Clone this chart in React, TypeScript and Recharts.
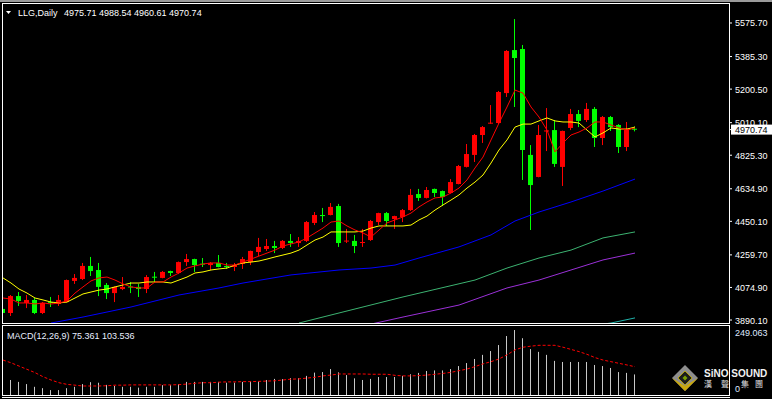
import { Bar, ComposedChart, Line, XAxis, YAxis } from "recharts";

const FONT = "'Liberation Sans', Arial, sans-serif";

const opens = [
  3953, 3930, 4026, 3987, 4004, 3930, 3992, 3981, 3992, 4112,
  4123, 4197, 4174, 4089, 4043, 4066, 4080, 4078, 4066, 4136,
  4129, 4168, 4157, 4219, 4236, 4210, 4202, 4214, 4197, 4191,
  4208, 4219, 4276, 4293, 4310, 4299, 4339, 4327, 4339, 4441,
  4486, 4486, 4537, 4336, 4339, 4327, 4344, 4446, 4497, 4463,
  4475, 4514, 4605, 4583, 4634, 4622, 4611, 4662, 4759, 4827,
  4940, 5006, 5008, 5178, 5422, 5428, 4827, 4702, 4960, 4968,
  4759, 4980, 5059, 5025, 5088, 4923, 5042, 4997, 4872, 4975.71,
];
const highs = [
  4032, 4032, 4049, 4032, 4015, 3992, 4021, 4032, 4120, 4151,
  4214, 4248, 4214, 4100, 4080, 4134, 4106, 4095, 4145, 4163,
  4168, 4170, 4222, 4265, 4238, 4242, 4219, 4259, 4214, 4214,
  4248, 4284, 4356, 4350, 4339, 4344, 4378, 4361, 4452, 4503,
  4526, 4554, 4549, 4407, 4373, 4407, 4458, 4499, 4503, 4482,
  4520, 4634, 4634, 4645, 4636, 4625, 4690, 4770, 4889, 4946,
  4991, 5110, 5190, 5422, 5598, 5451, 4883, 4997, 5093, 5025,
  4965, 5088, 5082, 5122, 5099, 5048, 5048, 5002, 5014, 4988.54,
];
const lows = [
  3913, 3913, 3970, 3958, 3924, 3924, 3964, 3970, 3990, 4095,
  4117, 4140, 4026, 4009, 3992, 4060, 4043, 4021, 4043, 4100,
  4127, 4140, 4151, 4197, 4163, 4191, 4174, 4189, 4180, 4168,
  4180, 4202, 4253, 4282, 4270, 4293, 4305, 4305, 4333, 4429,
  4446, 4484, 4305, 4327, 4270, 4305, 4339, 4429, 4424, 4407,
  4446, 4509, 4566, 4580, 4588, 4537, 4608, 4660, 4756, 4787,
  4895, 5004, 5002, 5156, 5099, 4685, 4401, 4700, 4849, 4759,
  4651, 4968, 4985, 5014, 4872, 4883, 4963, 4838, 4849, 4960.61,
];
const closes = [
  3930, 4026, 3998, 4004, 3930, 3987, 3987, 4004, 4117, 4129,
  4197, 4168, 4078, 4043, 4078, 4078, 4075, 4066, 4134, 4132,
  4163, 4157, 4219, 4236, 4202, 4206, 4214, 4191, 4191, 4202,
  4236, 4282, 4305, 4310, 4299, 4339, 4327, 4339, 4446, 4486,
  4480, 4532, 4327, 4341, 4310, 4333, 4452, 4497, 4452, 4480,
  4514, 4600, 4583, 4628, 4611, 4588, 4673, 4764, 4832, 4940,
  4985, 5010, 5184, 5417, 5377, 4855, 4656, 4940, 4966, 4776,
  4963, 5059, 5020, 5088, 4923, 5042, 4985, 4872, 4974, 4970.74,
];

// short moving averages (red / yellow)
const maRed = [
  4015, 4009, 3987, 3987, 3981, 3987, 3981, 3987, 3998, 4043,
  4078, 4112, 4129, 4134, 4117, 4095, 4078, 4072, 4072, 4106,
  4106, 4134, 4157, 4185, 4197, 4208, 4214, 4214, 4202, 4202,
  4219, 4236, 4253, 4270, 4287, 4310, 4322, 4333, 4356, 4384,
  4412, 4446, 4452, 4424, 4401, 4384, 4361, 4401, 4441, 4458,
  4475, 4497, 4532, 4560, 4583, 4588, 4611, 4639, 4685, 4753,
  4815, 4912, 5008, 5099, 5195, 5178, 5099, 5042, 4968, 4844,
  4895, 4940, 4957, 4980, 5014, 5014, 4997, 4980, 4968, 4980,
];
const maYellow = [
  4129, 4100, 4066, 4043, 4015, 4004, 3992, 3987, 3992, 4015,
  4038, 4049, 4060, 4066, 4078, 4089, 4100, 4100, 4106, 4106,
  4106, 4100, 4117, 4134, 4157, 4163, 4174, 4180, 4185, 4202,
  4214, 4219, 4225, 4236, 4248, 4259, 4270, 4287, 4316, 4344,
  4361, 4390, 4390, 4390, 4390, 4395, 4412, 4424, 4424, 4424,
  4424, 4429, 4458, 4480, 4514, 4543, 4571, 4600, 4639, 4673,
  4713, 4781, 4855, 4912, 4985, 5002, 5002, 5020, 5037, 5020,
  5014, 5014, 5008, 4968, 4929, 4952, 4980, 4974, 4974, 4985,
];

// long moving averages, sampled at [candle index, price]
const maBlue = [
  [6, 3873], [10, 3907], [16, 3964], [22, 4032], [27, 4072], [30, 4100],
  [36, 4146], [42, 4174], [46, 4185], [49, 4202], [52, 4242], [57, 4305],
  [61, 4373], [64, 4452], [67, 4503], [71, 4560], [75, 4622], [79, 4690],
];
const maGreen = [
  [37, 3873], [42, 3930], [50, 4021], [59, 4117], [63, 4185], [67, 4242],
  [71, 4287], [75, 4356], [79, 4390],
];
const maPurple = [
  [46, 3867], [50, 3907], [57, 3975], [63, 4072], [67, 4117], [71, 4174],
  [75, 4231], [79, 4270],
];
const maCyan = [[75, 3867], [76, 3873], [79, 3902]];

const macd = [
  61, 55, 48, 40, 30, 25, 18, 18, 25, 30,
  40, 47, 45, 37, 33, 30, 30, 27, 30, 30,
  36, 36, 40, 48, 48, 48, 48, 48, 45, 45,
  48, 50, 50, 55, 59, 58, 62, 62, 70, 82,
  84, 95, 83, 73, 61, 55, 59, 66, 66, 66,
  70, 76, 81, 88, 90, 90, 95, 106, 117, 132,
  147, 161, 183, 216, 238, 208, 168, 158, 147, 125,
  121, 121, 121, 121, 110, 106, 99, 84, 81, 75.361,
];
const signal = [
  128, 118, 106, 94, 82, 67, 55, 45, 39, 36,
  33, 33, 33, 34, 36, 36, 37, 37, 37, 37,
  37, 37, 38, 40, 43, 45, 45, 47, 48, 48,
  49, 49, 50, 51, 52, 55, 58, 59, 62, 65,
  70, 73, 77, 77, 77, 77, 76, 76, 76, 72,
  70, 70, 71, 73, 76, 79, 83, 89, 95, 104,
  114, 122, 132, 147, 165, 175, 179, 182, 182, 182,
  175, 167, 159, 149, 137, 128, 122, 116, 110, 103.536,
];

const priceTicks = [3890.1, 4074.9, 4259.7, 4450.1, 4634.9, 4825.3, 5010.1, 5200.5, 5385.3, 5575.7];
const macdTicks = [0, 249.063];
const logoChars = ["漢", "聲", "集", "團"];

const pick = (pts: number[][], i: number) => {
  const p = pts.find((q) => q[0] === i);
  return p ? p[1] : null;
};

const rows = opens.map((o, i) => ({
  i,
  open: o,
  high: highs[i],
  low: lows[i],
  close: closes[i],
  range: [lows[i], highs[i]],
  maRed: maRed[i],
  maYellow: maYellow[i],
  maBlue: pick(maBlue, i),
  maGreen: pick(maGreen, i),
  maPurple: pick(maPurple, i),
  maCyan: pick(maCyan, i),
}));

const macdRows = macd.map((m, i) => ({ i, macd: m, signal: signal[i] }));

const last = rows.length - 1;
const lastClose = closes[last];

function Candle(props: any) {
  const { x, y, width, height, payload } = props;
  const { open, high, low, close } = payload;
  const top = Math.min(y, y + height);
  const span = Math.abs(height);
  const k = high > low ? span / (high - low) : 0;
  const cx = Math.floor(x + width / 2);
  const color = close >= open ? "#ff0000" : "#00ff00";
  const bodyTop = top + (high - Math.max(open, close)) * k;
  const bodyH = Math.max(1, Math.abs(open - close) * k);
  return (
    <g>
      <rect x={cx} y={top} width={1} height={Math.max(1, span)} fill={color} />
      <rect x={cx - 2} y={bodyTop} width={5} height={bodyH} fill={color} />
    </g>
  );
}

function MacdBar(props: any) {
  const { x, y, width, height } = props;
  const cx = Math.floor(x + width / 2);
  return <rect x={cx} y={Math.min(y, y + height)} width={1} height={Math.abs(height)} fill="#c8c8c8" />;
}

function PriceTick(props: any) {
  const { x, y, payload } = props;
  const v = payload.value;
  if (v === lastClose) {
    return (
      <g>
        <rect x={x - 4} y={y - 5} width={42} height={10} fill="#ffffff" />
        <text x={x} y={y + 3.5} fill="#000" fontSize={9} fontFamily={FONT}>
          {v.toFixed(2)}
        </text>
      </g>
    );
  }
  return (
    <text x={x} y={y + 3.5} fill="#fff" fontSize={9} fontFamily={FONT}>
      {v.toFixed(2)}
    </text>
  );
}

function MacdTick(props: any) {
  const { x, y, payload } = props;
  const v = payload.value;
  return (
    <text x={x} y={v > 0 ? y + 9 : y - 3} fill="#dfe8ff" fontSize={9} fontFamily={FONT}>
      {v === 0 ? "0" : v.toFixed(3)}
    </text>
  );
}

export default function App() {
  const header = [opens[last], highs[last], lows[last], closes[last]].map((v) => v.toFixed(2)).join(" ");
  return (
    <div style={{ position: "fixed", left: 0, top: 0, width: 772, height: 399, background: "#000", overflow: "hidden" }}>
      <div style={{ position: "absolute", left: 0, top: 0 }}>
        <ComposedChart width={772} height={328} data={rows} margin={{ top: 4, right: 0, bottom: 4, left: 3 }}>
          <XAxis dataKey="i" type="number" domain={[0, 90.75]} hide allowDataOverflow />
          <YAxis
            orientation="right"
            width={43}
            domain={[3867.5, 5683.5]}
            allowDataOverflow
            ticks={[...priceTicks, lastClose]}
            interval={0}
            tickSize={3}
            tickMargin={3}
            axisLine={false}
            tickLine={{ stroke: "#fff" }}
            tick={PriceTick}
          />
          <Line dataKey="maBlue" stroke="#0000ff" dot={false} connectNulls isAnimationActive={false} />
          <Line dataKey="maGreen" stroke="#3cb371" dot={false} connectNulls isAnimationActive={false} />
          <Line dataKey="maPurple" stroke="#9b30d8" dot={false} connectNulls isAnimationActive={false} />
          <Line dataKey="maCyan" stroke="#20b2aa" dot={false} connectNulls isAnimationActive={false} />
          <Line dataKey="maYellow" stroke="#ffff00" dot={false} isAnimationActive={false} />
          <Line dataKey="maRed" stroke="#ff0000" dot={false} isAnimationActive={false} />
          <Bar dataKey="range" barSize={5} shape={Candle} isAnimationActive={false} />
        </ComposedChart>
      </div>
      <div style={{ position: "absolute", left: 0, top: 326 }}>
        <ComposedChart width={772} height={70} data={macdRows} margin={{ top: 1, right: 0, bottom: 1, left: 3 }}>
          <XAxis dataKey="i" type="number" domain={[0, 90.75]} hide allowDataOverflow />
          <YAxis
            orientation="right"
            width={43}
            domain={[0, 249.063]}
            allowDataOverflow
            ticks={macdTicks}
            interval={0}
            tickSize={3}
            tickMargin={3}
            axisLine={false}
            tickLine={false}
            tick={MacdTick}
          />
          <Bar dataKey="macd" barSize={1} shape={MacdBar} isAnimationActive={false} />
          <Line dataKey="signal" stroke="#ff0000" strokeDasharray="3 2" dot={false} isAnimationActive={false} />
        </ComposedChart>
      </div>
      <svg width={772} height={399} style={{ position: "absolute", left: 0, top: 0, pointerEvents: "none" }}>
        <rect x={0} y={0} width={772} height={2} fill="#9a9a9a" />
        <rect x={2.5} y={3.5} width={727} height={320} fill="none" stroke="#fff" />
        <rect x={2.5} y={325.5} width={727} height={70} fill="none" stroke="#fff" />
        <line x1={2} y1={397.5} x2={730} y2={397.5} stroke="#fff" />
        <polygon points="6,11 11,11 8.5,14" fill="#fff" />
        <text x={18} y={15.5} fill="#fff" fontSize={9} fontFamily={FONT}>LLG,Daily</text>
        <text x={64} y={15.5} fill="#fff" fontSize={9} fontFamily={FONT}>{header}</text>
        <text x={7} y={338.5} fill="#e8eeff" fontSize={9} fontFamily={FONT}>
          {`MACD(12,26,9) ${macd[last].toFixed(3)} ${signal[last].toFixed(3)}`}
        </text>
        <g>
          <polygon points="685,365 698,378 685,391 672,378" fill="#8e8e8e" />
          <polygon points="672,378 685,391 698,378 685,386" fill="#c9a80c" />
          <polygon points="685,371 692,378 685,385 678,378" fill="#1c1c1c" stroke="#b5a20a" />
          <polygon points="685,375.5 687.5,378 685,380.5 682.5,378" fill="#7aa000" />
          <text x={704} y={376.5} fill="#f2f2f2" fontSize={10} fontWeight="bold" fontFamily={FONT}>SiNO SOUND</text>
          {logoChars.map((c, n) => (
            <text
              key={c}
              x={[704, 721, 741, 755][n]}
              y={387}
              fill="#e0e0e0"
              fontSize={8}
              fontFamily="'Noto Sans CJK TC', sans-serif"
            >
              {c}
            </text>
          ))}
        </g>
      </svg>
    </div>
  );
}
